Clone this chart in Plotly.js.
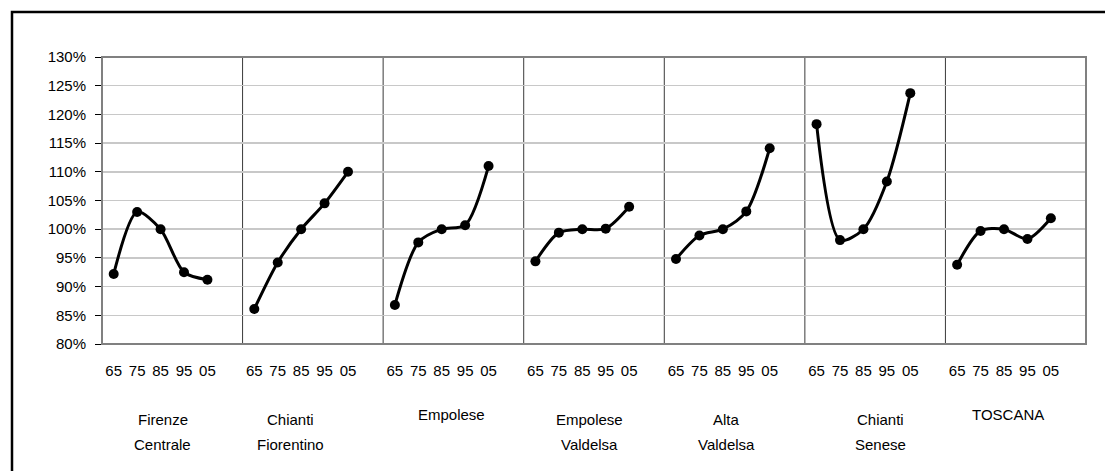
<!DOCTYPE html>
<html>
<head>
<meta charset="utf-8">
<script src="https://cdn.plot.ly/plotly-3.0.1.min.js"></script>
<style>
  html, body { margin: 0; padding: 0; background: #fff; }
  #chart { width: 1105px; height: 471px; }
</style>
</head>
<body>
<div id="chart"></div>
<script>
// Census years shown under every area
const years = ['65', '75', '85', '95', '05'];

// Area names (two-line where the label wraps)
const areas = [
  ['Firenze', 'Centrale'],
  ['Chianti', 'Fiorentino'],
  ['Empolese'],
  ['Empolese', 'Valdelsa'],
  ['Alta', 'Valdelsa'],
  ['Chianti', 'Senese'],
  ['TOSCANA']
];

// Index values (1985 = 100%)
const firenzeCentrale   = [0.922, 1.030, 1.000, 0.925, 0.912];
const chiantiFiorentino = [0.861, 0.942, 1.000, 1.045, 1.100];
const empolese          = [0.868, 0.977, 1.000, 1.007, 1.110];
const empoleseValdelsa  = [0.944, 0.994, 1.000, 1.001, 1.039];
const altaValdelsa      = [0.948, 0.989, 1.000, 1.031, 1.141];
const chiantiSenese     = [1.183, 0.981, 1.000, 1.083, 1.237];
const toscana           = [0.938, 0.997, 1.000, 0.983, 1.019];

const series = [firenzeCentrale, chiantiFiorentino, empolese, empoleseValdelsa,
                altaValdelsa, chiantiSenese, toscana];

// ---- layout helpers ----
const W = 1105, H = 471;
const M = { l: 102, r: 19, t: 57, b: 127 };
const plotW = W - M.l - M.r, plotH = H - M.t - M.b;
const px2x = p => (p - M.l) / plotW;          // pixel -> paper x
const px2y = p => (H - M.b - p) / plotH;      // pixel -> paper y

const GROUP = 6;                 // five years + one empty slot per area
const nSlots = areas.length * GROUP - 1;
const FONT = '"Liberation Sans", Arial, sans-serif';

// one smoothed line per area
const traces = series.map((vals, g) => ({
  type: 'scatter',
  mode: 'lines+markers',
  x: years.map((_, i) => g * GROUP + i),
  y: vals,
  line: { color: '#000', width: 3, shape: 'spline', smoothing: 0.8 },
  marker: { color: '#000', size: 10, symbol: 'circle' },
  hoverinfo: 'skip',
  showlegend: false,
  cliponaxis: false
}));

// tick positions / labels for the years
const tickvals = [], ticktext = [];
areas.forEach((_, g) => years.forEach((y, i) => { tickvals.push(g * GROUP + i); ticktext.push(y); }));

// shapes: separators between areas, the 100% line, plot frame, outer frame
const shapes = [];
for (let g = 1; g < areas.length; g++) {
  shapes.push({ type: 'line', xref: 'x', yref: 'paper', x0: g * GROUP - 0.5, x1: g * GROUP - 0.5,
                y0: 0, y1: 1, line: { color: '#3a3a3a', width: 1 }, layer: 'below' });
}
shapes.push({ type: 'line', xref: 'paper', yref: 'y', x0: 0, x1: 1, y0: 1, y1: 1,
              line: { color: '#000', width: 1 }, layer: 'below' });
shapes.push({ type: 'rect', xref: 'paper', yref: 'paper', x0: 0, x1: 1, y0: 0, y1: 1,
              line: { color: '#808080', width: 2 }, layer: 'above' });
shapes.push({ type: 'rect', xref: 'paper', yref: 'paper',
              x0: px2x(12), x1: px2x(1120), y0: px2y(12), y1: px2y(500),
              line: { color: '#000', width: 2.5 }, layer: 'above' });

// area name labels under the year ticks, one annotation per text line
const labelShift = [2, -11, 10, 7, 4, 17, 4];
const lineY = { single: [414], double: [419, 444] };
const annotations = [];
areas.forEach((lines, g) => {
  const ys = lines.length > 1 ? lineY.double : lineY.single;
  lines.forEach((txt, k) => annotations.push({
    xref: 'x', yref: 'paper',
    x: g * GROUP + 2, xshift: labelShift[g],
    y: px2y(ys[k]),
    yanchor: 'middle', xanchor: 'center',
    text: txt, showarrow: false,
    font: { family: FONT, size: 15, color: '#000' }
  }));
});

const layout = {
  width: W, height: H,
  margin: M,
  paper_bgcolor: '#fff',
  plot_bgcolor: '#fff',
  showlegend: false,
  xaxis: {
    range: [-0.5, nSlots + 0.5],
    tickvals: tickvals, ticktext: ticktext,
    ticks: '', showgrid: false, zeroline: false, showline: false,
    ticklabelstandoff: 16,
    tickfont: { family: FONT, size: 15, color: '#000' },
    fixedrange: true
  },
  yaxis: {
    range: [0.8, 1.3],
    dtick: 0.05, tick0: 0.8,
    tickformat: '.0%',
    ticks: 'outside', ticklen: 6, tickcolor: '#000', tickwidth: 1,
    showline: true, linecolor: '#000', linewidth: 1,
    showgrid: true, gridcolor: '#c8c8c8', gridwidth: 1.5,
    zeroline: false,
    ticklabelstandoff: 6,
    tickfont: { family: FONT, size: 15, color: '#000' },
    fixedrange: true
  },
  shapes: shapes,
  annotations: annotations
};

Plotly.newPlot('chart', traces, layout, { displayModeBar: false, staticPlot: true });
</script>
</body>
</html>
